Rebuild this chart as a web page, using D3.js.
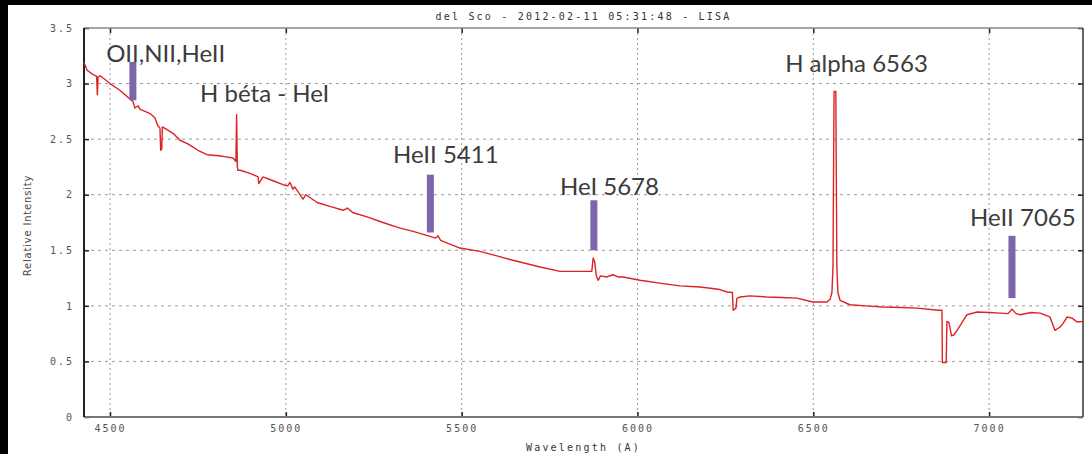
<!DOCTYPE html>
<html>
<head>
<meta charset="utf-8">
<script src="https://cdn.jsdelivr.net/npm/d3@7"></script>
<style>
  html, body { margin: 0; padding: 0; background: #000; }
  #spectrum { width: 1092px; height: 454px; }
</style>
</head>
<body>
<div id="spectrum"></div>
<script>
// spectrum: wavelength (A) and relative intensity
const wavelengths = [
  4426, 4435, 4452, 4460, 4462, 4464, 4466, 4472, 4500, 4528, 4550, 4565, 4571, 4580, 4585,
  4614, 4628, 4636, 4642, 4644, 4647, 4649, 4660, 4670, 4680, 4699, 4720, 4735, 4750, 4776,
  4810, 4830, 4850, 4855, 4858, 4860, 4862, 4864, 4870, 4900, 4921, 4923, 4927, 4935, 4960,
  4992, 5005, 5012, 5020, 5025, 5034, 5049, 5057, 5089, 5130, 5163, 5175, 5190, 5231, 5276,
  5325, 5362, 5410, 5425, 5433, 5440, 5495, 5552, 5600, 5646, 5723, 5780, 5857, 5870, 5874,
  5878, 5883, 5888, 5895, 5913, 5930, 5945, 5959, 6007, 6073, 6121, 6178, 6230, 6255, 6270,
  6272, 6280, 6283, 6292, 6320, 6368, 6410, 6454, 6499, 6539, 6548, 6553, 6556, 6559, 6564,
  6567, 6570, 6576, 6604, 6650, 6698, 6750, 6795, 6855, 6866, 6867, 6878, 6880, 6886, 6893,
  6900, 6909, 6937, 6966, 7000, 7031, 7054, 7065, 7077, 7088, 7120, 7145, 7173, 7187, 7202,
  7210, 7222, 7236, 7250, 7267
];
const intensities = [
  3.19, 3.12, 3.08, 3.07, 3.06, 2.90, 3.06, 3.07, 3.00, 2.94, 2.88, 2.84, 2.78, 2.80, 2.77,
  2.73, 2.69, 2.62, 2.60, 2.40, 2.41, 2.61, 2.59, 2.57, 2.55, 2.49, 2.46, 2.43, 2.40, 2.36,
  2.35, 2.34, 2.33, 2.31, 2.30, 2.72, 2.25, 2.22, 2.22, 2.19, 2.16, 2.10, 2.12, 2.16, 2.13,
  2.09, 2.08, 2.11, 2.05, 2.07, 2.03, 1.96, 2.00, 1.93, 1.89, 1.86, 1.88, 1.84, 1.80, 1.75,
  1.70, 1.67, 1.625, 1.61, 1.63, 1.59, 1.52, 1.49, 1.45, 1.41, 1.35, 1.31, 1.31, 1.31, 1.43,
  1.40, 1.27, 1.23, 1.27, 1.26, 1.28, 1.26, 1.26, 1.23, 1.20, 1.18, 1.17, 1.15, 1.125, 1.12,
  0.96, 0.98, 1.07, 1.08, 1.09, 1.08, 1.075, 1.07, 1.035, 1.035, 1.06, 1.12, 1.35, 2.93, 2.93,
  1.35, 1.12, 1.05, 1.01, 1.00, 0.99, 0.985, 0.98, 0.96, 0.96, 0.49, 0.49, 0.86, 0.85, 0.73,
  0.74, 0.78, 0.92, 0.945, 0.94, 0.935, 0.93, 0.97, 0.93, 0.92, 0.94, 0.935, 0.90, 0.78, 0.81,
  0.84, 0.90, 0.89, 0.855, 0.86
];

// axis ticks
const xTicks = [4500, 5000, 5500, 6000, 6500, 7000];
const yTicks = [0, 0.5, 1, 1.5, 2, 2.5, 3, 3.5];

// purple line markers (wavelength, top and bottom intensity)
const markerWl = [4565, 5411, 5876, 7065];
const markerTop = [3.195, 2.18, 1.95, 1.63];
const markerBottom = [2.85, 1.66, 1.50, 1.07];

// line identifications: text, start wavelength, baseline intensity
const labelText = ["OII,NII,HeII", "H béta - HeI", "HeII 5411", "HeI 5678", "H alpha 6563", "HeII 7065"];
const labelWl = [4489, 4756, 5305, 5780, 6420, 6946];
const labelY = [3.195, 2.835, 2.286, 1.998, 3.105, 1.719];

function drawChart() {
    const container = d3.select("#spectrum");
    container.selectAll("*").remove();

    const W = 1092, H = 454;
    const margin = { top: 28, right: 9, bottom: 37, left: 84 };
    const width = W - margin.left - margin.right;
    const height = H - margin.top - margin.bottom;

    const svg = container.append("svg")
        .attr("width", W)
        .attr("height", H);

    // white sheet inside the black border of the screenshot
    svg.append("rect")
        .attr("x", 8).attr("y", 5)
        .attr("width", W - 8).attr("height", H - 5)
        .attr("fill", "#fff");

    const g = svg.append("g")
        .attr("transform", `translate(${margin.left},${margin.top})`);

    const x = d3.scaleLinear().domain([4426, 7267]).range([0, width]);
    const y = d3.scaleLinear().domain([0, 3.5]).range([height, 0]);

    // dotted grid
    g.append("g").selectAll("line")
        .data(xTicks).enter().append("line")
        .attr("x1", d => x(d)).attr("x2", d => x(d))
        .attr("y1", 0).attr("y2", height)
        .attr("stroke", "#9a9a9a").attr("stroke-width", 1)
        .attr("stroke-dasharray", "2,3");
    g.append("g").selectAll("line")
        .data(yTicks.slice(1, -1)).enter().append("line")
        .attr("x1", 0).attr("x2", width)
        .attr("y1", d => y(d)).attr("y2", d => y(d))
        .attr("stroke", "#9a9a9a").attr("stroke-width", 1)
        .attr("stroke-dasharray", "3,4");

    const tickFont = "'DejaVu Sans Mono', monospace";

    // bottom axis (ticks inward, labels below)
    const xAxis = g.append("g")
        .attr("transform", `translate(0,${height})`)
        .call(d3.axisBottom(x).tickValues(xTicks).tickSize(-5).tickPadding(10).tickFormat(d3.format("d")));
    // left axis
    g.append("g")
        .call(d3.axisLeft(y).tickValues(yTicks).tickSize(-5).tickPadding(10).tickFormat(d => d));
    // mirrored ticks top and right
    g.append("g")
        .call(d3.axisTop(x).tickValues(xTicks).tickSize(-5).tickFormat(""));
    g.append("g")
        .attr("transform", `translate(${width},0)`)
        .call(d3.axisRight(y).tickValues(yTicks).tickSize(-5).tickFormat(""));

    g.selectAll(".domain").remove();
    g.selectAll(".tick line").attr("stroke", "#222").attr("stroke-width", 1.5);
    g.selectAll(".tick text")
        .style("font-family", tickFont)
        .style("font-size", "10px")
        .style("letter-spacing", "2px")
        .attr("fill", "#555");
    xAxis.selectAll(".tick text").attr("dy", "0.5em");

    // frame
    g.append("line").attr("x1", 0).attr("x2", width).attr("y1", 0).attr("y2", 0)
        .attr("stroke", "#888").attr("stroke-width", 1.5);
    g.append("line").attr("x1", 0).attr("x2", width).attr("y1", height).attr("y2", height)
        .attr("stroke", "#777").attr("stroke-width", 2);
    g.append("line").attr("x1", 0).attr("x2", 0).attr("y1", 0).attr("y2", height)
        .attr("stroke", "#222").attr("stroke-width", 2);
    g.append("line").attr("x1", width).attr("x2", width).attr("y1", 0).attr("y2", height)
        .attr("stroke", "#333").attr("stroke-width", 1.5);

    // spectrum
    const points = wavelengths.map((w, i) => [w, intensities[i]]);
    const line = d3.line()
        .x(d => x(d[0]))
        .y(d => y(d[1]));
    g.append("path")
        .datum(points)
        .attr("fill", "none")
        .attr("stroke", "#dd2222")
        .attr("stroke-width", 1.4)
        .attr("stroke-linejoin", "round")
        .attr("d", line);

    // purple markers
    g.append("g").selectAll("rect")
        .data(markerWl).enter().append("rect")
        .attr("x", d => x(d) - 3.5)
        .attr("width", 7)
        .attr("y", (d, i) => y(markerTop[i]))
        .attr("height", (d, i) => y(markerBottom[i]) - y(markerTop[i]))
        .attr("fill", "#7e64aa");

    // labels
    g.append("g").selectAll("text")
        .data(labelText).enter().append("text")
        .attr("x", (d, i) => x(labelWl[i]))
        .attr("y", (d, i) => y(labelY[i]))
        .style("font-family", "Lato, 'Open Sans', sans-serif")
        .style("font-size", "24px")
        .attr("fill", "#3c3c3c")
        .text(d => d);

    // title
    svg.append("text")
        .attr("x", margin.left + width / 2)
        .attr("y", 20)
        .attr("text-anchor", "middle")
        .style("font-family", tickFont)
        .style("font-size", "10px")
        .style("letter-spacing", "2.2px")
        .attr("fill", "#333")
        .text("del Sco - 2012-02-11 05:31:48 - LISA");

    // axis titles
    svg.append("text")
        .attr("x", margin.left + width / 2)
        .attr("y", 451)
        .attr("text-anchor", "middle")
        .style("font-family", tickFont)
        .style("font-size", "10px")
        .style("letter-spacing", "2.2px")
        .attr("fill", "#333")
        .text("Wavelength (A)");
    svg.append("text")
        .attr("transform", `translate(31,${margin.top + height / 2 + 3}) rotate(-90)`)
        .attr("text-anchor", "middle")
        .style("font-family", "'DejaVu Sans', sans-serif")
        .style("font-size", "10px")
        .style("letter-spacing", "0.8px")
        .attr("fill", "#444")
        .text("Relative Intensity");
}

drawChart();
</script>
</body>
</html>
